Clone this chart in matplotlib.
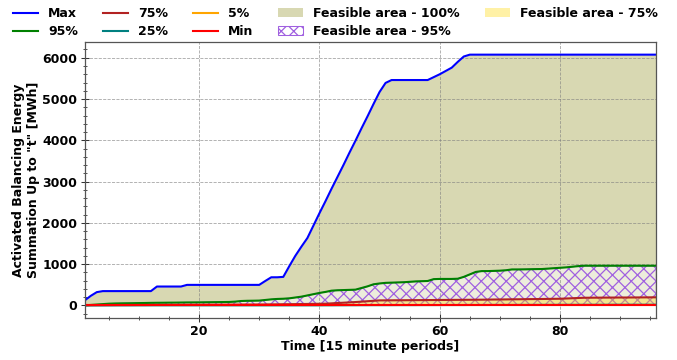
import matplotlib
matplotlib.use('Agg')
import matplotlib.pyplot as plt
from matplotlib.ticker import AutoMinorLocator, MultipleLocator
import numpy as np

# Time axis: 96 quarter-hour periods
periods = list(range(1, 97))

# Cumulative activated balancing energy [MWh]
max_vals = [120, 230, 320, 345, 345, 345, 345, 345, 345, 345, 345, 345,
            456, 456, 456, 456, 456, 496, 496, 496, 496, 496, 496, 496,
            496, 496, 496, 496, 496, 496, 590, 680, 680, 690, 950, 1200,
            1420, 1630, 1930, 2230, 2520, 2820, 3110, 3400, 3700, 3990, 4290, 4580,
            4880, 5170, 5390, 5460, 5460, 5460, 5460, 5460, 5460, 5460, 5530, 5600,
            5680, 5760, 5900, 6030, 6075, 6075, 6075, 6075, 6075, 6075, 6075, 6075,
            6075, 6075, 6075, 6075, 6075, 6075, 6075, 6075, 6075, 6075, 6075, 6075,
            6075, 6075, 6075, 6075, 6075, 6075, 6075, 6075, 6075, 6075, 6075, 6075]

p95_vals = [0, 10, 20, 30, 40, 45, 48, 50, 52, 55, 57, 60,
            62, 63, 65, 66, 68, 70, 71, 72, 74, 76, 78, 80,
            82, 90, 105, 110, 112, 115, 130, 145, 155, 160, 170, 190,
            210, 240, 270, 300, 325, 355, 365, 370, 375, 380, 420, 460,
            510, 530, 545, 550, 555, 560, 570, 580, 585, 590, 635, 640,
            640, 640, 645, 690, 750, 810, 830, 830, 835, 840, 850, 870,
            870, 872, 875, 878, 880, 890, 900, 910, 920, 935, 950, 960,
            960, 960, 960, 960, 960, 960, 960, 960, 960, 960, 960, 960]

p75_vals = [0, 1, 2, 3, 4, 5, 6, 6, 7, 8, 8, 9,
            10, 10, 11, 12, 12, 13, 14, 14, 15, 16, 16, 17,
            18, 18, 19, 20, 20, 21, 22, 24, 25, 27, 28, 30,
            32, 34, 36, 38, 40, 48, 56, 64, 72, 80, 90, 100,
            110, 120, 121, 122, 123, 124, 125, 126, 127, 128, 129, 130,
            131, 132, 133, 134, 135, 136, 137, 139, 141, 142, 144, 146,
            147, 149, 151, 152, 154, 156, 158, 160, 166, 172, 178, 184,
            185, 186, 187, 188, 189, 190, 190, 191, 192, 193, 194, 195]

p25_vals = [0, 0, 0, 0, 0, 0, 0, 0, 0, 0, 0, 0,
            0, 0, 0, 0, 0, 0, 0, 0, 0, 0, 0, 0,
            0, 0, 0, 0, 0, 0, 0, 0, 0, 0, 0, 0,
            0, 0, 0, 0, 1, 1, 2, 2, 3, 3, 4, 4,
            5, 5, 5, 5, 6, 6, 6, 6, 7, 7, 7, 7,
            8, 8, 8, 8, 9, 9, 9, 9, 10, 10, 10, 10,
            11, 11, 11, 11, 12, 12, 12, 12, 13, 13, 13, 13,
            14, 14, 14, 14, 15, 15, 15, 15, 15, 15, 15, 15]

p5_vals = [0] * 96
min_vals = [0] * 96

x = np.array(periods)

plt.rcParams['hatch.linewidth'] = 1.2

fig, ax = plt.subplots(figsize=(9.04, 4.8), dpi=75)
fig.subplots_adjust(left=0.125, right=0.968, top=0.883, bottom=0.117)

# feasible areas
ax.fill_between(x, min_vals, max_vals, color='olive', alpha=0.3, linewidth=0,
                label='Feasible area - 100%')
ax.fill_between(x, p5_vals, p95_vals, color='white', alpha=0.55, linewidth=0)
ax.fill_between(x, p5_vals, p95_vals, facecolor='none', edgecolor='#a060e0',
                hatch='xx', linewidth=1, label='Feasible area - 95%')
ax.fill_between(x, p25_vals, p75_vals, color='gold', alpha=0.35, linewidth=0,
                label='Feasible area - 75%')

# percentile lines
ax.plot(x, max_vals, color='blue', lw=2, label='Max')
ax.plot(x, p95_vals, color='green', lw=2, label='95%')
ax.plot(x, p75_vals, color='firebrick', lw=2, label='75%')
ax.plot(x, p25_vals, color='teal', lw=2, label='25%')
ax.plot(x, p5_vals, color='orange', lw=2, label='5%')
ax.plot(x, min_vals, color='red', lw=2, label='Min')

ax.set_xlim(1, 96)
ax.xaxis.set_major_locator(MultipleLocator(20))
ax.xaxis.set_minor_locator(AutoMinorLocator())
ax.yaxis.set_minor_locator(AutoMinorLocator())
ax.tick_params(which='major', direction='inout', length=7, width=1, colors='#333333',
               labelcolor='black', labelsize=12)
ax.tick_params(which='minor', direction='inout', length=4, width=0.8, colors='#333333')
ax.grid(True, which='major', linestyle='--', color='gray', alpha=0.7, lw=0.8)

ax.set_xlabel('Time [15 minute periods]', fontsize=12, fontweight='bold', labelpad=2)
ax.set_ylabel('Activated Balancing Energy\nSummation Up to "t" [MWh]',
              fontsize=12, fontweight='bold', labelpad=2)
for lab in ax.get_xticklabels() + ax.get_yticklabels():
    lab.set_fontweight('bold')
for sp in ax.spines.values():
    sp.set_color('#555555')
    sp.set_linewidth(1.2)

# legend ordered column-wise as in the original
handles, labels = ax.get_legend_handles_labels()
order = ['Max', '95%', '75%', '25%', '5%', 'Min',
         'Feasible area - 100%', 'Feasible area - 95%', 'Feasible area - 75%']
hmap = dict(zip(labels, handles))
fig.legend([hmap[k] for k in order], order, loc='upper center',
           bbox_to_anchor=(0.495, 1.012), ncol=5, frameon=False,
           prop={'weight': 'bold', 'size': 12}, handlelength=2.0,
           handletextpad=0.8, columnspacing=2.0, labelspacing=0.4)

plt.savefig('out.png', dpi=75)
